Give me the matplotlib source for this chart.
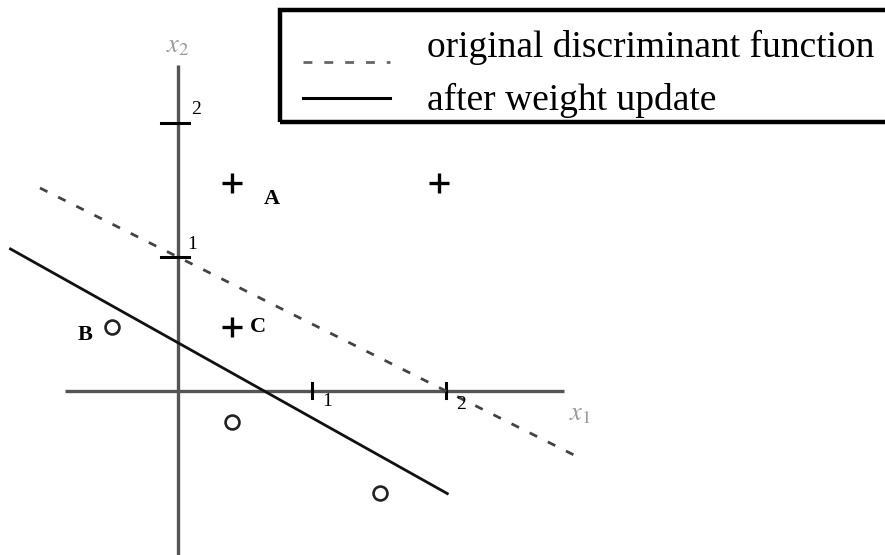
import numpy as np
import matplotlib.pyplot as plt
from matplotlib.patches import Rectangle

plt.rcParams['mathtext.fontset'] = 'stix'

# training points of the two classes
plus_x = [0.40, 1.95, 0.40]
plus_y = [1.55, 1.55, 0.48]
circle_x = [-0.49, 0.40, 1.51]
circle_y = [0.48, -0.23, -0.76]

# point labels
labels = ['A', 'B', 'C']
label_x = [0.70, -0.69, 0.60]
label_y = [1.43, 0.42, 0.48]

# discriminant lines  w0 + w1*x1 + w2*x2 = 0
w_orig = [-2.0, 1.0, 2.0]
w_new = [-0.36, 0.56, 1.0]
orig_range = [-1.03, 2.99]
new_range = [-1.25, 2.01]

ticks = [1, 2]

serif = ['Liberation Serif', 'DejaVu Serif']

fig = plt.figure(figsize=(8.85, 5.55), dpi=100)
ax = fig.add_axes([0, 0, 1, 1])
ax.set_xlim(-178 / 134, (885 - 178) / 134)
ax.set_ylim(-(555 - 391) / 134, 391 / 134)
ax.axis('off')

# coordinate axes
axis_col = '#555555'
ax.plot([-0.84, 2.88], [0, 0], color=axis_col, lw=2.4, solid_capstyle='butt')
ax.plot([0, 0], [-1.4, 2.43], color=axis_col, lw=2.4, solid_capstyle='butt')
for t in ticks:
    ax.plot([-0.13, 0.08], [t, t], color='black', lw=2.2)
    ax.plot([t, t], [-0.05, 0.06], color='black', lw=2.2)
ax.text(0.10, 2.10, '2', fontsize=14, family=serif, ha='left', va='center')
ax.text(0.07, 1.09, '1', fontsize=14, family=serif, ha='left', va='center')
ax.text(1.11, -0.08, '1', fontsize=14, family=serif, ha='center', va='center')
ax.text(2.11, -0.10, '2', fontsize=14, family=serif, ha='center', va='center')
ax.text(0.0, 2.58, r'$x_2$', fontsize=19, color='#9a9a9a', ha='center', va='center')
ax.text(3.0, -0.17, r'$x_1$', fontsize=19, color='#9a9a9a', ha='center', va='center')

# decision boundaries
def boundary(w, xr):
    x = np.array(xr)
    return x, -(w[0] + w[1] * x) / w[2]

xo, yo = boundary(w_orig, orig_range)
ax.plot(xo, yo, color='#444444', lw=2.0, dashes=(3.0, 4.3))
xn, yn = boundary(w_new, new_range)
ax.plot(xn, yn, color='#111111', lw=2.0)

# samples
ax.plot(plus_x, plus_y, '+', color='black', ms=15, mew=2.4)
ax.plot(circle_x, circle_y, 'o', color='#222222', mfc='none', ms=10, mew=1.9)
for s, x, y in zip(labels, label_x, label_y):
    ax.text(x, y, s, fontsize=16, fontweight='bold', family=serif,
            ha='center', va='center')

# legend box
fig.add_artist(Rectangle((280 / 885, 1 - 122 / 555), 620 / 885, 112 / 555,
                         transform=fig.transFigure, fill=False,
                         edgecolor='black', lw=3.2))
fig.add_artist(plt.Line2D([303 / 885, 390 / 885], [1 - 62 / 555] * 2,
                          transform=fig.transFigure, color='#666666',
                          lw=2.0, dashes=(3.2, 4.3)))
fig.add_artist(plt.Line2D([303 / 885, 390 / 885], [1 - 98 / 555] * 2,
                          transform=fig.transFigure, color='black', lw=2.2))
fig.text(427 / 885, 1 - 47 / 555, 'original discriminant function',
         fontsize=27, family=serif, ha='left', va='center')
fig.text(427 / 885, 1 - 100 / 555, 'after weight update',
         fontsize=27, family=serif, ha='left', va='center')

fig.savefig('out.png', dpi=100)
